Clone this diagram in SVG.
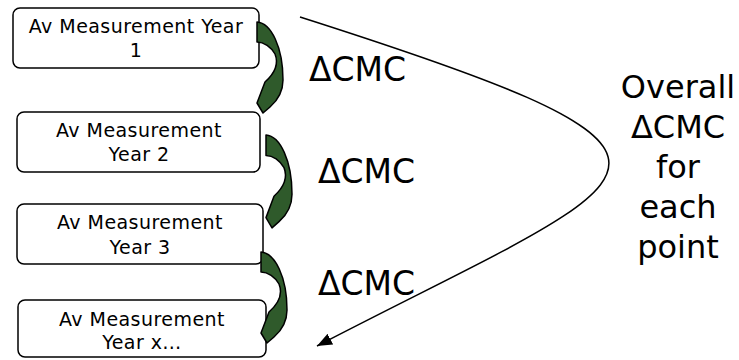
<svg xmlns="http://www.w3.org/2000/svg" width="739" height="360" viewBox="0 0 739 360">
<defs>
<style>
.box{fill:#fff;stroke:#000;stroke-width:1.5}
.bt{font-family:"DejaVu Sans",Verdana,sans-serif;font-size:19px;letter-spacing:0.45px;text-anchor:middle;fill:#000}
.big{font-family:"DejaVu Sans",Verdana,sans-serif;font-size:33px;fill:#000}
.side{font-family:"DejaVu Sans",Verdana,sans-serif;font-size:32px;fill:#000;text-anchor:middle}
.garrow{fill:#2f5a2b;stroke:#000;stroke-width:1.5;stroke-linejoin:round}
.conn{fill:none;stroke:#000;stroke-width:1.5}
</style>
<marker id="ah" markerUnits="userSpaceOnUse" markerWidth="16" markerHeight="12" refX="15" refY="6" orient="auto">
<path d="M0,0 L15,6 L0,12 Z" fill="#000"/>
</marker>
<path id="carrow" d="M0,0 C14,1 26,25 26,58 C26,68 21,78 13,85 L6,91 L0,81 L8,60 C17,52 22,42 18,32 C14,25 7,20 0,20 Z"/>
</defs>
<g id="node1">
<rect class="box" x="13" y="8" width="246" height="60" rx="7"/>
<text class="bt" x="136" y="33">Av Measurement Year</text>
<text class="bt" x="136" y="57">1</text>
</g>
<g id="node2">
<rect class="box" x="17" y="112" width="243" height="60" rx="7"/>
<text class="bt" x="139" y="137">Av Measurement</text>
<text class="bt" x="139" y="161">Year 2</text>
</g>
<g id="node3">
<rect class="box" x="17" y="204" width="246" height="60" rx="7"/>
<text class="bt" x="140" y="229">Av Measurement</text>
<text class="bt" x="140" y="254">Year 3</text>
</g>
<g id="node4">
<rect class="box" x="18" y="300" width="248" height="57" rx="7"/>
<text class="bt" x="142" y="326">Av Measurement</text>
<text class="bt" x="142" y="349">Year x…</text>
</g>
<g id="connectors">
<use href="#carrow" class="garrow" transform="translate(257,22)"/>
<use href="#carrow" class="garrow" transform="translate(266,135) scale(1,1.02)"/>
<use href="#carrow" class="garrow" transform="translate(261,252)"/>
<path class="conn" d="M300,17 C758,163 658,169 317,346" marker-end="url(#ah)"/>
</g>
<g id="labels">
<text class="big" x="309" y="81">ΔCMC</text>
<text class="big" x="318" y="183">ΔCMC</text>
<text class="big" x="318" y="295">ΔCMC</text>
<text class="side" x="678" y="98">Overall</text>
<text class="side" x="678" y="138">ΔCMC</text>
<text class="side" x="678" y="178">for</text>
<text class="side" x="678" y="218">each</text>
<text class="side" x="678" y="258">point</text>
</g>
</svg>
